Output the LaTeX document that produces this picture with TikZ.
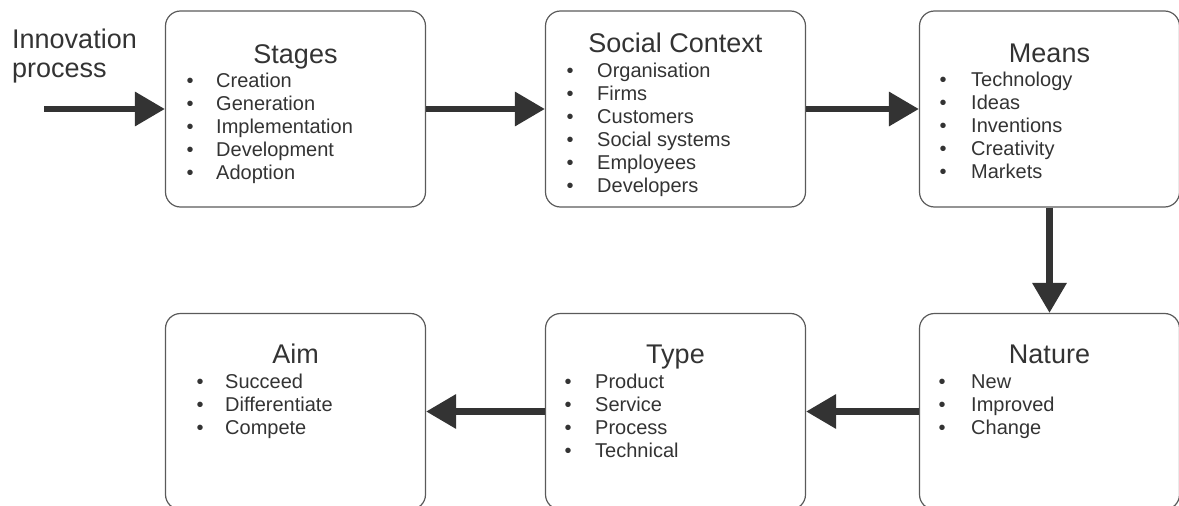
\documentclass[tikz,border=0pt]{standalone}
\usepackage{fontspec}
\setmainfont{Liberation Sans}
\usetikzlibrary{arrows.meta}
\definecolor{ink}{HTML}{333333}
\definecolor{frame}{HTML}{5A5A5A}
\begin{document}
\begin{tikzpicture}[x=1pt,y=-1pt,
  box/.style={draw=frame,line width=1.2pt,rounded corners=15pt,minimum width=260pt,minimum height=196pt,inner sep=0pt},
  title/.style={anchor=base,inner sep=0pt,text=ink,font=\fontsize{27}{29}\selectfont},
  item/.style={anchor=base west,inner sep=0pt,text=ink,font=\fontsize{20}{23}\selectfont},
  bul/.style={anchor=base,inner sep=0pt,text=ink,font=\fontsize{20}{23}\selectfont},
  arr/.style={draw=ink,line width=6.5pt,-{Triangle[length=30pt,width=33pt]}}]
\useasboundingbox (0,0) rectangle (1179,506);
\node [box] (stages) at (295.5,109) {};
\node [box] (social) at (675.5,109) {};
\node [box] (means) at (1049.5,109) {};
\node [box] (nature) at (1049.5,411.5) {};
\node [box] (type) at (675.5,411.5) {};
\node [box] (aim) at (295.5,411.5) {};
\node [anchor=north west,inner sep=0pt,align=left,text=ink,font=\fontsize{27}{29}\selectfont] (innov) at (12,28.5) {Innovation\\process};
\coordinate (start) at (44,109);
\node [title] (stagesT) at (295.5,63) {Stages};
\foreach \t [count=\i] in {Creation,Generation,Implementation,Development,Adoption} {
  \node [bul] (stagesB\i) at (190,64+23*\i) {\textbullet};
  \node [item] (stagesI\i) at (216,64+23*\i) {\t};
}
\node [title] (socialT) at (675.5,52) {Social Context};
\foreach \t [count=\i] in {Organisation,Firms,Customers,Social systems,Employees,Developers} {
  \node [bul] (socialB\i) at (570,54+23*\i) {\textbullet};
  \node [item] (socialI\i) at (597,54+23*\i) {\t};
}
\node [title] (meansT) at (1049.5,62) {Means};
\foreach \t [count=\i] in {Technology,Ideas,Inventions,Creativity,Markets} {
  \node [bul] (meansB\i) at (943,63+23*\i) {\textbullet};
  \node [item] (meansI\i) at (971,63+23*\i) {\t};
}
\node [title] (natureT) at (1049.5,363) {Nature};
\foreach \t [count=\i] in {New,Improved,Change} {
  \node [bul] (natureB\i) at (942,365+23*\i) {\textbullet};
  \node [item] (natureI\i) at (971,365+23*\i) {\t};
}
\node [title] (typeT) at (675.5,363) {Type};
\foreach \t [count=\i] in {Product,Service,Process,Technical} {
  \node [bul] (typeB\i) at (568,365+23*\i) {\textbullet};
  \node [item] (typeI\i) at (595,365+23*\i) {\t};
}
\node [title] (aimT) at (295.5,363) {Aim};
\foreach \t [count=\i] in {Succeed,Differentiate,Compete} {
  \node [bul] (aimB\i) at (200,365+23*\i) {\textbullet};
  \node [item] (aimI\i) at (225,365+23*\i) {\t};
}
\draw [arr] (start) -- (stages);
\draw [arr] (stages) -- (social);
\draw [arr] (social) -- (means);
\draw [arr] (means) -- (nature);
\draw [arr] (nature) -- (type);
\draw [arr] (type) -- (aim);
\end{tikzpicture}
\end{document}
